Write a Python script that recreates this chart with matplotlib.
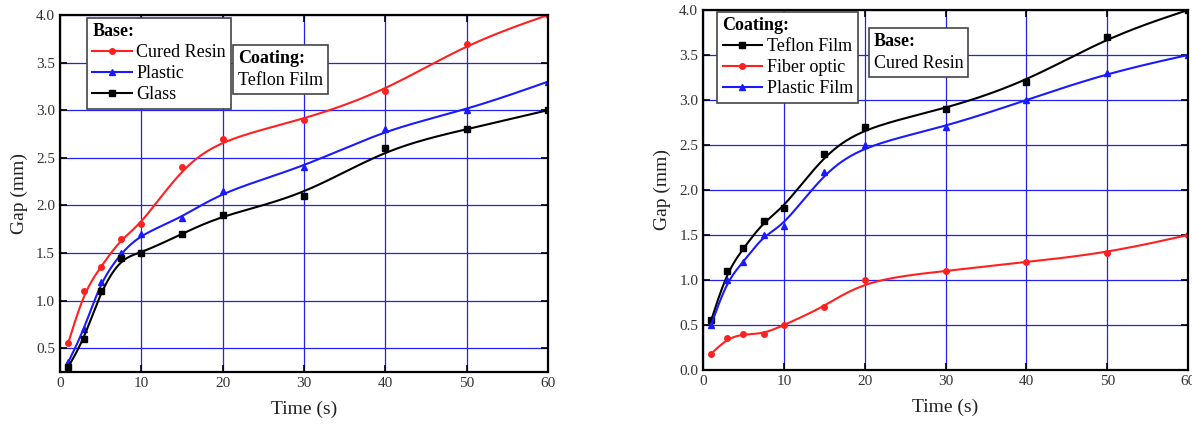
import numpy as np
import matplotlib
matplotlib.use("Agg")
import matplotlib.pyplot as plt
from matplotlib.lines import Line2D
from matplotlib.offsetbox import TextArea, VPacker, AnchoredOffsetbox

plt.rcParams['font.family'] = ['Liberation Serif', 'DejaVu Serif']

# data
time_s = [1, 3, 5, 7.5, 10, 15, 20, 30, 40, 50, 60]

# left panel: coating Teflon Film, different bases
cured_resin = [0.55, 1.1, 1.35, 1.65, 1.8, 2.4, 2.7, 2.9, 3.2, 3.7, 4.0]
plastic = [0.35, 0.7, 1.2, 1.5, 1.7, 1.87, 2.15, 2.4, 2.8, 3.0, 3.3]
glass = [0.3, 0.6, 1.1, 1.45, 1.5, 1.7, 1.9, 2.1, 2.6, 2.8, 3.0]

# right panel: base Cured Resin, different coatings
teflon_film = [0.55, 1.1, 1.35, 1.65, 1.8, 2.4, 2.7, 2.9, 3.2, 3.7, 4.0]
fiber_optic = [0.18, 0.35, 0.4, 0.4, 0.5, 0.7, 1.0, 1.1, 1.2, 1.3, 1.5]
plastic_film = [0.5, 1.0, 1.2, 1.5, 1.6, 2.2, 2.5, 2.7, 3.0, 3.3, 3.5]


def bspline(x, y, n=30):
    # clamped uniform cubic B-spline, points used as control points (like Origin)
    p = np.column_stack([x, y]).astype(float)
    p = np.vstack([p[0], p[0], p, p[-1], p[-1]])
    t = np.linspace(0, 1, n)
    b0 = (1 - t) ** 3 / 6
    b1 = (3 * t ** 3 - 6 * t ** 2 + 4) / 6
    b2 = (-3 * t ** 3 + 3 * t ** 2 + 3 * t + 1) / 6
    b3 = t ** 3 / 6
    out = []
    for i in range(len(p) - 3):
        seg = (np.outer(b0, p[i]) + np.outer(b1, p[i + 1])
               + np.outer(b2, p[i + 2]) + np.outer(b3, p[i + 3]))
        out.append(seg)
    out = np.vstack(out)
    return out[:, 0], out[:, 1]


def style_axes(ax, ymin, yticks):
    ax.set_xlim(0, 60)
    ax.set_ylim(ymin, 4.0)
    ax.set_xticks([0, 10, 20, 30, 40, 50, 60])
    ax.set_yticks(yticks)
    ax.set_yticklabels(['{:.1f}'.format(v) for v in yticks])
    ax.grid(True, color='#2222ee', linewidth=0.9)
    ax.set_axisbelow(True)
    ax.tick_params(direction='in', top=True, right=True, length=5, width=1.2,
                   labelsize=11, colors='black', labelcolor='#333333')
    for s in ax.spines.values():
        s.set_linewidth(1.6)
    ax.set_xlabel('Time (s)', fontsize=14, labelpad=8, color='#222222')
    ax.set_ylabel('Gap (mm)', fontsize=14, labelpad=6, color='#222222')


def add_series(ax, y, color, marker, label):
    xs, ys = bspline(time_s, y)
    ax.plot(xs, ys, color=color, linewidth=1.5)
    ax.plot(time_s, y, linestyle='none', marker=marker, color=color, markersize=4)
    return Line2D([], [], color=color, marker=marker, markersize=4, linewidth=1.5, label=label)


def add_legend(ax, handles, title, anchor):
    leg = ax.legend(handles=handles, title=title, loc='upper left',
                    bbox_to_anchor=anchor, fontsize=13, fancybox=False,
                    edgecolor='#444444', framealpha=1, handlelength=2.2,
                    handletextpad=0.25, labelspacing=0.22, borderaxespad=0,
                    borderpad=0.3, alignment='left',
                    title_fontproperties={'weight': 'bold', 'size': 13})
    leg.get_frame().set_linewidth(1.2)


def info_box(ax, title, text, loc_xy):
    t1 = TextArea(title, textprops=dict(fontsize=13, fontweight='bold'))
    t2 = TextArea(text, textprops=dict(fontsize=13))
    box = VPacker(children=[t1, t2], align='left', pad=0, sep=4)
    ab = AnchoredOffsetbox(loc='upper left', child=box, pad=0.35, borderpad=0,
                           frameon=True, bbox_to_anchor=loc_xy,
                           bbox_transform=ax.transAxes)
    ab.patch.set_edgecolor('#444444')
    ab.patch.set_linewidth(1.2)
    ax.add_artist(ab)


fig = plt.figure(figsize=(11.92, 4.24), dpi=100)
ax1 = fig.add_axes([0.0503, 0.1226, 0.4094, 0.842])
ax2 = fig.add_axes([0.5898, 0.1274, 0.4069, 0.849])

# left panel
h1 = add_series(ax1, cured_resin, '#ff2020', 'o', 'Cured Resin')
h2 = add_series(ax1, plastic, '#1a1aff', '^', 'Plastic')
h3 = add_series(ax1, glass, 'black', 's', 'Glass')
style_axes(ax1, 0.25, [0.5, 1.0, 1.5, 2.0, 2.5, 3.0, 3.5, 4.0])
add_legend(ax1, [h1, h2, h3], 'Base:', (0.055, 0.992))
info_box(ax1, 'Coating:', 'Teflon Film', (0.355, 0.916))

# right panel
g1 = add_series(ax2, teflon_film, 'black', 's', 'Teflon Film')
g2 = add_series(ax2, fiber_optic, '#ff2020', 'o', 'Fiber optic')
g3 = add_series(ax2, plastic_film, '#1a1aff', '^', 'Plastic Film')
style_axes(ax2, 0.0, [0.0, 0.5, 1.0, 1.5, 2.0, 2.5, 3.0, 3.5, 4.0])
add_legend(ax2, [g1, g2, g3], 'Coating:', (0.029, 0.995))
info_box(ax2, 'Base:', 'Cured Resin', (0.342, 0.951))

fig.savefig('out.png', dpi=100)
